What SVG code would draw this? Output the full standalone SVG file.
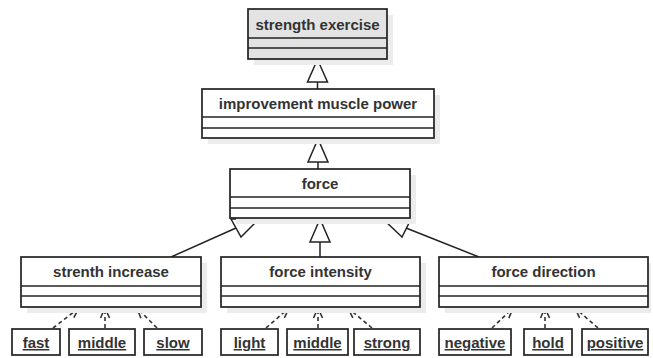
<svg xmlns="http://www.w3.org/2000/svg" width="653" height="358" viewBox="0 0 653 358">
<style>
.sh{fill:#ececec;stroke:none}
.box{fill:#ffffff;stroke:#222;stroke-width:1.7}
.gbox{fill:#e3e3e3;stroke:#222;stroke-width:1.7}
.sep{stroke:#222;stroke-width:1.7}
.t{font-family:"Liberation Sans",Arial,sans-serif;font-weight:bold;font-size:15px;fill:#333;text-anchor:middle}
.u{text-decoration:underline}
.gen{fill:#fff;stroke:#222;stroke-width:1.5}
.ln{stroke:#222;stroke-width:1.5;fill:none}
.dep{stroke:#333;stroke-width:1.6;fill:none;stroke-dasharray:4,3;marker-end:url(#open)}
</style>
<defs>
<marker id="open" viewBox="0 0 12 12" refX="11" refY="6" markerWidth="12" markerHeight="12" markerUnits="userSpaceOnUse" orient="auto">
<path d="M1,1.5 L11,6 L1,10.5" fill="none" stroke="#333" stroke-width="1.6"/>
</marker>
</defs>
<rect width="653" height="358" fill="#ffffff"/>
<g id="connectors">
<line class="ln" x1="317.5" y1="82" x2="317.5" y2="89"/>
<polygon class="gen" points="317.5,59.5 307.5,82 327.5,82"/>
<line class="ln" x1="318" y1="162" x2="318" y2="169"/>
<polygon class="gen" points="318,139 308,162 328,162"/>
<line class="ln" x1="320" y1="242" x2="320" y2="257"/>
<polygon class="gen" points="320,219 310,242 330,242"/>
<line class="ln" x1="171" y1="257" x2="236" y2="228"/>
<polygon class="gen" points="231,219 259,219 241,237"/>
<line class="ln" x1="406" y1="228" x2="479" y2="257"/>
<polygon class="gen" points="383,219 411,219 402,237"/>
<line class="dep" x1="53" y1="328" x2="79" y2="308"/>
<line class="dep" x1="105" y1="328" x2="105" y2="308"/>
<line class="dep" x1="157" y1="328" x2="137" y2="308"/>
<line class="dep" x1="266" y1="328" x2="289" y2="308"/>
<line class="dep" x1="318" y1="328" x2="318" y2="308"/>
<line class="dep" x1="372" y1="328" x2="348" y2="308"/>
<line class="dep" x1="492" y1="328" x2="513" y2="308"/>
<line class="dep" x1="545" y1="328" x2="545" y2="308"/>
<line class="dep" x1="598" y1="328" x2="575" y2="308"/>
</g>
<g id="strength-exercise">
<rect class="sh" x="254" y="15" width="139" height="50"/>
<rect class="gbox" x="248" y="9" width="139" height="50"/>
<line class="sep" x1="248" y1="38" x2="387" y2="38"/>
<line class="sep" x1="248" y1="48" x2="387" y2="48"/>
<text class="t" x="317.5" y="29.5">strength exercise</text>
</g>
<g id="improvement-muscle-power">
<rect class="sh" x="208" y="95" width="232" height="49"/>
<rect class="box" x="202" y="89" width="232" height="49"/>
<line class="sep" x1="202" y1="117" x2="434" y2="117"/>
<line class="sep" x1="202" y1="128" x2="434" y2="128"/>
<text class="t" x="318" y="109">improvement muscle power</text>
</g>
<g id="force">
<rect class="sh" x="236" y="175" width="180" height="49"/>
<rect class="box" x="230" y="169" width="180" height="49"/>
<line class="sep" x1="230" y1="197" x2="410" y2="197"/>
<line class="sep" x1="230" y1="208" x2="410" y2="208"/>
<text class="t" x="320" y="189">force</text>
</g>
<g id="strenth-increase">
<rect class="sh" x="27" y="263" width="180" height="50"/>
<rect class="box" x="21" y="257" width="180" height="50"/>
<line class="sep" x1="21" y1="286" x2="201" y2="286"/>
<line class="sep" x1="21" y1="296" x2="201" y2="296"/>
<text class="t" x="111" y="277">strenth increase</text>
</g>
<g id="force-intensity">
<rect class="sh" x="227" y="263" width="199" height="50"/>
<rect class="box" x="221" y="257" width="199" height="50"/>
<line class="sep" x1="221" y1="286" x2="420" y2="286"/>
<line class="sep" x1="221" y1="296" x2="420" y2="296"/>
<text class="t" x="320.5" y="277">force intensity</text>
</g>
<g id="force-direction">
<rect class="sh" x="445" y="263" width="206" height="50"/>
<rect class="box" x="439" y="257" width="209" height="50"/>
<line class="sep" x1="439" y1="286" x2="648" y2="286"/>
<line class="sep" x1="439" y1="296" x2="648" y2="296"/>
<text class="t" x="543.5" y="277">force direction</text>
</g>
<g id="fast"><rect class="box" x="12" y="329" width="48" height="26"/><text class="t u" x="36" y="348">fast</text></g>
<g id="middle-1"><rect class="box" x="69" y="329" width="66" height="26"/><text class="t u" x="102" y="348">middle</text></g>
<g id="slow"><rect class="box" x="144" y="329" width="58" height="26"/><text class="t u" x="173" y="348">slow</text></g>
<g id="light"><rect class="box" x="221" y="329" width="57" height="26"/><text class="t u" x="249.5" y="348">light</text></g>
<g id="middle-2"><rect class="box" x="287" y="329" width="61" height="26"/><text class="t u" x="317.5" y="348">middle</text></g>
<g id="strong"><rect class="box" x="354" y="329" width="66" height="26"/><text class="t u" x="387" y="348">strong</text></g>
<g id="negative"><rect class="box" x="439" y="329" width="72" height="26"/><text class="t u" x="475" y="348">negative</text></g>
<g id="hold"><rect class="box" x="524" y="329" width="48" height="26"/><text class="t u" x="548" y="348">hold</text></g>
<g id="positive"><rect class="box" x="582" y="329" width="66" height="26"/><text class="t u" x="615" y="348">positive</text></g>
</svg>
